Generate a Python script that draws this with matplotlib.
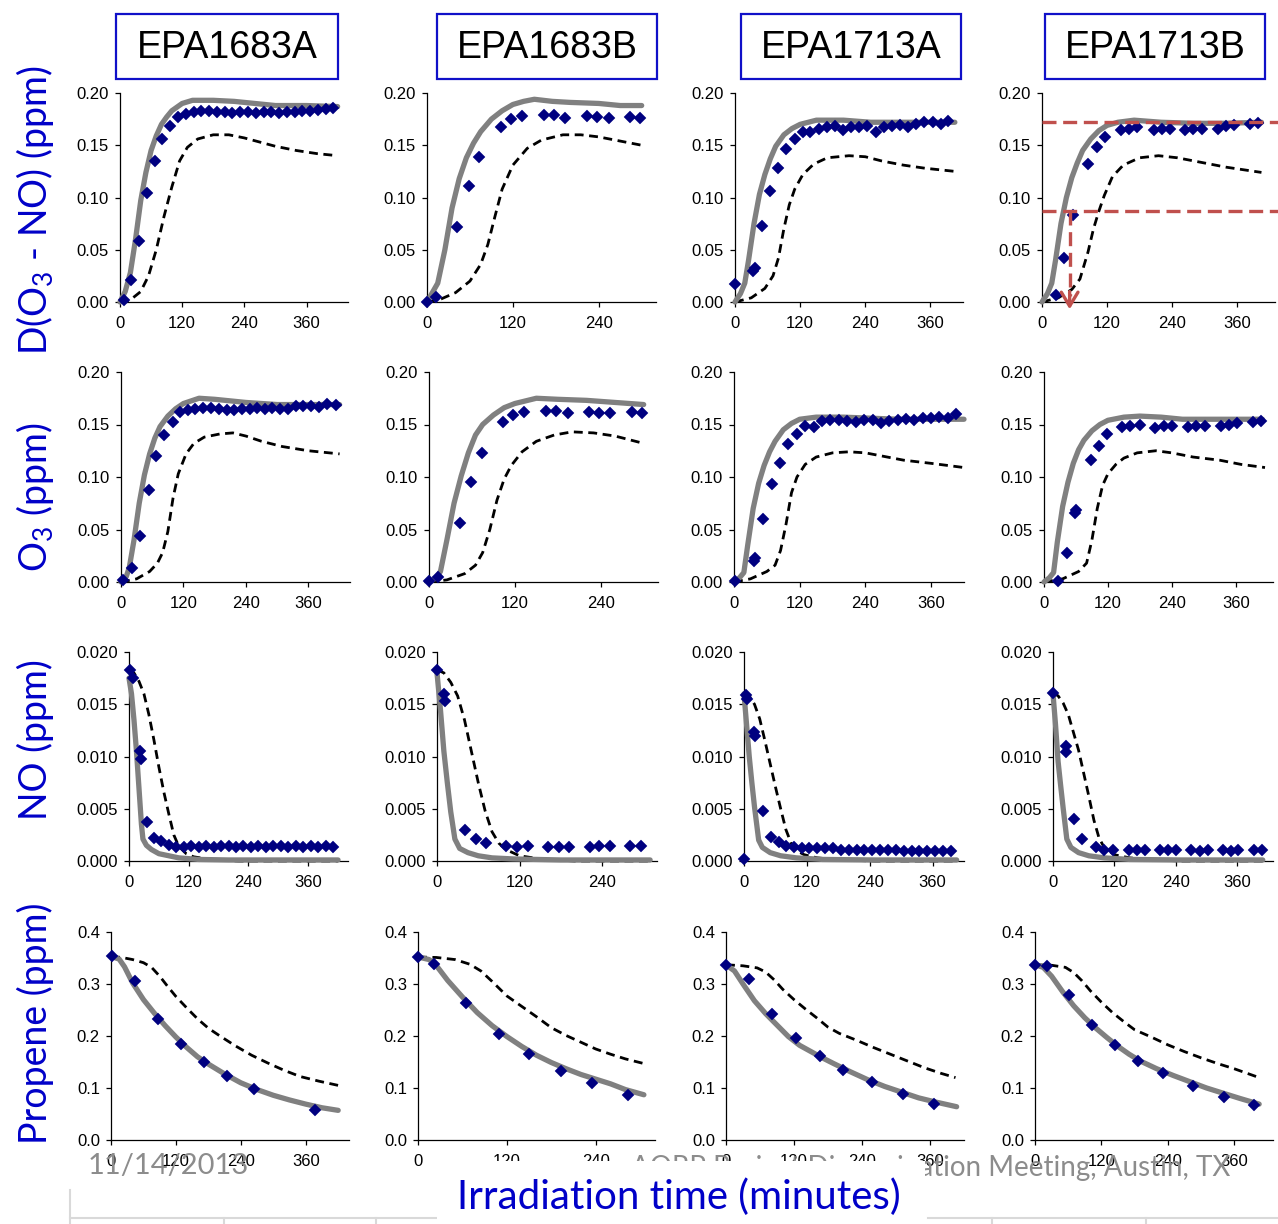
import matplotlib.pyplot as plt
from matplotlib.patches import Rectangle
from matplotlib.lines import Line2D

plt.rcParams['font.family'] = ['Liberation Sans', 'DejaVu Sans']
plt.rcParams['mathtext.default'] = 'regular'

W, H = 1278, 1224

runs = ["EPA1683A", "EPA1683B", "EPA1713A", "EPA1713B"]
row_labels = ["D(O$_3$ - NO) (ppm)", "O$_3$ (ppm)", "NO (ppm)", "Propene (ppm)"]
x_title = "Irradiation time (minutes)"
date_text = "11/14/2013"
footer_text = "AQRP Project Dissemination Meeting, Austin, TX"

# ---------------- D(O3 - NO) ----------------
r1c1_obs_t = [7, 22, 37, 52, 67, 82, 97, 112, 127, 142, 157, 172, 187, 202, 217, 232, 247, 262, 277, 292,
              307, 322, 337, 352, 367, 382, 397, 412]
r1c1_obs = [0.002, 0.021, 0.058, 0.104, 0.135, 0.156, 0.168, 0.177, 0.180, 0.182, 0.183, 0.183, 0.182, 0.182,
            0.181, 0.182, 0.182, 0.181, 0.182, 0.182, 0.181, 0.182, 0.182, 0.183, 0.183, 0.184, 0.185, 0.186]
r1c1_mod_t = [0, 10, 20, 30, 40, 50, 60, 70, 80, 90, 100, 120, 140, 180, 220, 260, 300, 360, 420]
r1c1_mod = [0, 0.010, 0.028, 0.060, 0.097, 0.124, 0.145, 0.159, 0.170, 0.177, 0.183, 0.190, 0.193, 0.193,
            0.192, 0.190, 0.188, 0.188, 0.187]
r1c1_old_t = [0, 20, 40, 55, 70, 85, 100, 115, 130, 150, 180, 210, 240, 270, 300, 340, 380, 420]
r1c1_old = [0, 0.002, 0.010, 0.025, 0.050, 0.082, 0.110, 0.135, 0.148, 0.156, 0.160, 0.160, 0.157, 0.153,
            0.149, 0.145, 0.142, 0.140]

r1c2_obs_t = [0, 13, 42, 58, 72, 103, 118, 133, 163, 177, 193, 224, 238, 254, 283, 298]
r1c2_obs = [0.000, 0.005, 0.072, 0.111, 0.139, 0.167, 0.175, 0.178, 0.179, 0.179, 0.176, 0.178, 0.177, 0.176,
            0.177, 0.176]
r1c2_mod_t = [0, 15, 25, 35, 45, 55, 65, 75, 90, 105, 120, 135, 150, 175, 200, 240, 270, 300]
r1c2_mod = [0, 0.018, 0.050, 0.090, 0.118, 0.138, 0.152, 0.163, 0.175, 0.183, 0.189, 0.192, 0.194, 0.192,
            0.191, 0.190, 0.188, 0.188]
r1c2_old_t = [0, 20, 40, 60, 75, 85, 95, 105, 120, 140, 160, 190, 215, 240, 270, 300]
r1c2_old = [0, 0.003, 0.009, 0.020, 0.036, 0.055, 0.082, 0.108, 0.131, 0.147, 0.155, 0.160, 0.160, 0.158,
            0.154, 0.150]

r1c3_obs_t = [0, 34, 36, 49, 65, 80, 94, 110, 125, 139, 154, 169, 184, 199, 214, 229, 244, 259, 274, 289,
              304, 319, 334, 349, 364, 379, 392]
r1c3_obs = [0.017, 0.030, 0.033, 0.073, 0.106, 0.128, 0.146, 0.156, 0.163, 0.163, 0.166, 0.167, 0.168, 0.165,
            0.167, 0.167, 0.168, 0.163, 0.167, 0.168, 0.169, 0.167, 0.170, 0.172, 0.172, 0.170, 0.173]
r1c3_mod_t = [0, 10, 18, 25, 35, 45, 55, 65, 75, 90, 105, 120, 150, 200, 250, 300, 350, 405]
r1c3_mod = [0, 0.008, 0.018, 0.040, 0.075, 0.103, 0.122, 0.137, 0.149, 0.160, 0.166, 0.170, 0.174, 0.174,
            0.172, 0.172, 0.172, 0.172]
r1c3_old_t = [0, 30, 55, 70, 80, 90, 100, 110, 125, 145, 170, 210, 240, 270, 310, 350, 405]
r1c3_old = [0, 0.004, 0.013, 0.025, 0.042, 0.070, 0.093, 0.108, 0.122, 0.132, 0.138, 0.140, 0.139, 0.135,
            0.131, 0.128, 0.125]

r1c4_obs_t = [26, 41, 57, 85, 101, 117, 145, 161, 176, 206, 221, 237, 264, 279, 295, 324, 340, 355, 383, 398]
r1c4_obs = [0.007, 0.042, 0.083, 0.132, 0.148, 0.158, 0.165, 0.166, 0.167, 0.165, 0.166, 0.166, 0.165, 0.166,
            0.166, 0.166, 0.168, 0.169, 0.170, 0.171]
r1c4_mod_t = [0, 10, 18, 25, 35, 45, 55, 65, 75, 90, 105, 120, 140, 170, 220, 280, 340, 405]
r1c4_mod = [0, 0.008, 0.018, 0.040, 0.075, 0.100, 0.119, 0.133, 0.145, 0.156, 0.164, 0.169, 0.172, 0.174,
            0.172, 0.171, 0.171, 0.172]
r1c4_old_t = [0, 30, 55, 70, 85, 95, 105, 115, 130, 150, 180, 215, 250, 290, 340, 405]
r1c4_old = [0, 0.004, 0.012, 0.022, 0.048, 0.070, 0.087, 0.102, 0.120, 0.131, 0.138, 0.140, 0.138, 0.134,
            0.129, 0.124]

# red guide lines on EPA1713B: max value, half of it, time to half
guide_max = 0.1725
guide_half = 0.0867
guide_t_half = 51

# ---------------- O3 ----------------
r2c1_obs_t = [3, 21, 37, 53, 68, 83, 99, 114, 129, 143, 158, 173, 188, 203, 217, 232, 247, 262, 277, 291,
              306, 321, 336, 350, 365, 380, 395, 414]
r2c1_obs = [0.002, 0.013, 0.044, 0.088, 0.120, 0.140, 0.152, 0.162, 0.164, 0.165, 0.166, 0.166, 0.165, 0.164,
            0.164, 0.165, 0.165, 0.166, 0.165, 0.166, 0.165, 0.165, 0.168, 0.168, 0.168, 0.167, 0.170, 0.169]
r2c1_mod_t = [0, 10, 16, 25, 35, 45, 55, 65, 75, 90, 105, 120, 150, 180, 240, 300, 360, 420]
r2c1_mod = [0, 0.005, 0.014, 0.040, 0.075, 0.102, 0.122, 0.137, 0.148, 0.158, 0.165, 0.170, 0.175, 0.174,
            0.171, 0.169, 0.169, 0.169]
r2c1_old_t = [0, 30, 55, 70, 80, 90, 100, 110, 125, 140, 160, 190, 215, 240, 270, 310, 360, 420]
r2c1_old = [0, 0.003, 0.010, 0.018, 0.028, 0.048, 0.080, 0.103, 0.122, 0.132, 0.138, 0.141, 0.142, 0.139,
            0.134, 0.129, 0.125, 0.122]

r2c2_obs_t = [0, 13, 43, 58, 74, 103, 118, 133, 163, 178, 194, 223, 238, 253, 283, 298]
r2c2_obs = [0.001, 0.005, 0.056, 0.095, 0.123, 0.152, 0.159, 0.162, 0.163, 0.163, 0.161, 0.162, 0.161, 0.161,
            0.162, 0.161]
r2c2_mod_t = [0, 10, 16, 25, 35, 45, 55, 65, 75, 90, 105, 120, 150, 180, 220, 260, 300]
r2c2_mod = [0, 0.004, 0.010, 0.040, 0.075, 0.101, 0.123, 0.140, 0.150, 0.159, 0.166, 0.170, 0.175, 0.174,
            0.173, 0.171, 0.169]
r2c2_old_t = [0, 25, 50, 65, 75, 85, 95, 105, 115, 130, 150, 175, 200, 230, 260, 300]
r2c2_old = [0, 0.002, 0.008, 0.016, 0.028, 0.050, 0.078, 0.098, 0.111, 0.124, 0.134, 0.140, 0.143, 0.142,
            0.139, 0.132]

r2c3_obs_t = [2, 36, 38, 53, 69, 84, 99, 115, 130, 146, 161, 176, 191, 207, 222, 237, 253, 268, 283, 299,
              314, 329, 345, 360, 375, 391, 406]
r2c3_obs = [0.001, 0.020, 0.023, 0.060, 0.093, 0.113, 0.131, 0.141, 0.149, 0.148, 0.153, 0.154, 0.154, 0.153,
            0.152, 0.154, 0.154, 0.151, 0.153, 0.154, 0.155, 0.154, 0.156, 0.156, 0.157, 0.156, 0.160]
r2c3_mod_t = [0, 10, 18, 25, 35, 45, 55, 65, 75, 90, 105, 120, 150, 200, 250, 300, 360, 420]
r2c3_mod = [0, 0.004, 0.009, 0.035, 0.070, 0.094, 0.111, 0.124, 0.134, 0.145, 0.151, 0.155, 0.157, 0.157,
            0.156, 0.155, 0.155, 0.155]
r2c3_old_t = [0, 30, 60, 75, 85, 95, 105, 115, 130, 150, 180, 210, 240, 270, 310, 360, 420]
r2c3_old = [0, 0.003, 0.010, 0.016, 0.030, 0.055, 0.085, 0.100, 0.112, 0.119, 0.123, 0.124, 0.123, 0.120,
            0.116, 0.113, 0.109]

r2c4_obs_t = [27, 43, 58, 60, 88, 103, 118, 147, 162, 180, 209, 226, 241, 270, 285, 303, 332, 347, 362, 393, 408]
r2c4_obs = [0.001, 0.028, 0.066, 0.069, 0.116, 0.130, 0.141, 0.148, 0.149, 0.150, 0.147, 0.149, 0.149, 0.148,
            0.149, 0.149, 0.149, 0.150, 0.151, 0.152, 0.153]
r2c4_mod_t = [0, 10, 18, 25, 35, 45, 55, 65, 75, 90, 105, 120, 150, 180, 220, 260, 320, 410]
r2c4_mod = [0, 0.004, 0.009, 0.038, 0.072, 0.095, 0.113, 0.126, 0.135, 0.144, 0.150, 0.154, 0.157, 0.158,
            0.157, 0.155, 0.155, 0.155]
r2c4_old_t = [0, 35, 65, 80, 90, 100, 110, 120, 135, 150, 175, 210, 240, 280, 330, 370, 415]
r2c4_old = [0, 0.003, 0.010, 0.018, 0.040, 0.070, 0.092, 0.103, 0.112, 0.118, 0.123, 0.125, 0.123, 0.119,
            0.116, 0.112, 0.109]

# ---------------- NO ----------------
r3c1_obs_t = [2, 9, 23, 25, 37, 50, 65, 80, 95, 110, 125, 140, 155, 170, 185, 200, 215, 230, 245, 260, 275,
              290, 305, 320, 335, 350, 365, 380, 395, 410]
r3c1_obs = [0.0183, 0.0175, 0.0105, 0.0098, 0.0037, 0.0022, 0.0019, 0.0015, 0.0013, 0.0013, 0.0014, 0.0013,
            0.0014, 0.0013, 0.0014, 0.0014, 0.0013, 0.0014, 0.0013, 0.0014, 0.0013, 0.0014, 0.0014, 0.0013,
            0.0014, 0.0013, 0.0014, 0.0013, 0.0014, 0.0013]
r3c1_mod_t = [0, 5, 10, 15, 20, 25, 28, 35, 45, 60, 80, 100, 140, 200, 300, 420]
r3c1_mod = [0.0175, 0.0160, 0.0135, 0.0105, 0.0070, 0.0035, 0.0021, 0.0015, 0.0011, 0.0007, 0.0005, 0.0003,
            0.00015, 0.0001, 0.0001, 0.0001]
r3c1_old_t = [0, 10, 20, 30, 40, 50, 60, 70, 80, 90, 100, 115, 130, 170, 220, 420]
r3c1_old = [0.0183, 0.0180, 0.0172, 0.0160, 0.0140, 0.0116, 0.0090, 0.0066, 0.0045, 0.0025, 0.0014, 0.0007,
            0.0004, 0.0001, 0, 0]

r3c2_obs_t = [0, 10, 11, 41, 56, 71, 101, 117, 132, 162, 177, 192, 222, 236, 251, 281, 296]
r3c2_obs = [0.0183, 0.0160, 0.0153, 0.0030, 0.0021, 0.0017, 0.0014, 0.0013, 0.0014, 0.0013, 0.0013, 0.0013,
            0.0013, 0.0014, 0.0014, 0.0014, 0.0014]
r3c2_mod_t = [0, 5, 10, 15, 20, 26, 33, 45, 60, 80, 110, 180, 310]
r3c2_mod = [0.0180, 0.0145, 0.0105, 0.0075, 0.0047, 0.0021, 0.0012, 0.0008, 0.0005, 0.0003, 0.0002, 0.0001,
            0.0001]
r3c2_old_t = [0, 10, 20, 30, 40, 50, 60, 70, 80, 90, 100, 120, 150, 200, 310]
r3c2_old = [0.0183, 0.0180, 0.0171, 0.0158, 0.0135, 0.0105, 0.0075, 0.0048, 0.0028, 0.0017, 0.0011, 0.0005,
            0.0002, 0, 0]

r3c3_obs_t = [0, 4, 6, 19, 21, 36, 51, 66, 80, 95, 110, 125, 140, 155, 170, 185, 200, 215, 230, 245, 260, 275,
              290, 305, 320, 335, 350, 365, 380, 395]
r3c3_obs = [0.0002, 0.0159, 0.0155, 0.0123, 0.0120, 0.0048, 0.0023, 0.0018, 0.0014, 0.0013, 0.0012, 0.0012,
            0.0012, 0.0012, 0.0012, 0.0011, 0.0011, 0.0011, 0.0011, 0.0011, 0.0011, 0.0011, 0.0011, 0.0010,
            0.0010, 0.0010, 0.0010, 0.0010, 0.0010, 0.0010]
r3c3_mod_t = [0, 5, 10, 15, 20, 28, 35, 50, 70, 100, 150, 250, 406]
r3c3_mod = [0.0160, 0.0130, 0.0100, 0.0075, 0.0052, 0.0020, 0.0013, 0.0008, 0.0005, 0.0003, 0.00015, 0.0001,
            0.0001]
r3c3_old_t = [0, 10, 20, 30, 40, 50, 60, 70, 80, 90, 100, 115, 140, 180, 250, 406]
r3c3_old = [0.0161, 0.0158, 0.0150, 0.0136, 0.0115, 0.0093, 0.0071, 0.0050, 0.0030, 0.0017, 0.0010, 0.0006,
            0.0003, 0.0001, 0, 0]

r3c4_obs_t = [0, 25, 26, 41, 56, 85, 100, 118, 149, 164, 180, 210, 225, 241, 270, 287, 302, 332, 347, 362,
              393, 409]
r3c4_obs = [0.0161, 0.0110, 0.0104, 0.0040, 0.0021, 0.0013, 0.0011, 0.0011, 0.0011, 0.0011, 0.0011, 0.0011,
            0.0011, 0.0011, 0.0011, 0.0010, 0.0011, 0.0011, 0.0010, 0.0011, 0.0011, 0.0011]
r3c4_mod_t = [0, 5, 10, 15, 20, 27, 35, 50, 70, 100, 150, 250, 410]
r3c4_mod = [0.0160, 0.0130, 0.0095, 0.0072, 0.0050, 0.0021, 0.0013, 0.0008, 0.0005, 0.0003, 0.00015, 0.0001,
            0.0001]
r3c4_old_t = [0, 10, 20, 30, 40, 50, 60, 70, 80, 90, 100, 120, 150, 200, 250, 410]
r3c4_old = [0.0161, 0.0158, 0.0151, 0.0140, 0.0123, 0.0106, 0.0084, 0.0062, 0.0039, 0.0022, 0.0013, 0.0006,
            0.0003, 0.0001, 0, 0]

# ---------------- Propene ----------------
r4c1_obs_t = [2, 45, 87, 130, 172, 215, 264, 377]
r4c1_obs = [0.353, 0.305, 0.233, 0.184, 0.150, 0.123, 0.099, 0.058]
r4c1_mod_t = [0, 15, 25, 40, 60, 80, 100, 120, 140, 160, 180, 210, 240, 270, 300, 330, 360, 390, 420]
r4c1_mod = [0.353, 0.348, 0.333, 0.302, 0.270, 0.244, 0.220, 0.198, 0.178, 0.160, 0.146, 0.127, 0.110, 0.097,
            0.086, 0.077, 0.069, 0.062, 0.057]
r4c1_old_t = [0, 20, 40, 60, 75, 90, 105, 120, 140, 160, 180, 200, 230, 260, 290, 320, 350, 385, 420]
r4c1_old = [0.353, 0.351, 0.347, 0.341, 0.332, 0.315, 0.295, 0.276, 0.254, 0.233, 0.215, 0.201, 0.181, 0.163,
            0.148, 0.134, 0.122, 0.113, 0.105]

r4c2_obs_t = [0, 22, 65, 109, 150, 193, 235, 284]
r4c2_obs = [0.352, 0.339, 0.264, 0.203, 0.165, 0.133, 0.109, 0.086]
r4c2_mod_t = [0, 15, 25, 40, 60, 80, 100, 120, 140, 160, 180, 200, 220, 240, 260, 280, 305]
r4c2_mod = [0.352, 0.347, 0.335, 0.307, 0.275, 0.245, 0.220, 0.199, 0.180, 0.163, 0.149, 0.137, 0.126, 0.117,
            0.108, 0.097, 0.087]
r4c2_old_t = [0, 25, 50, 70, 85, 100, 120, 140, 160, 180, 200, 220, 240, 260, 280, 305]
r4c2_old = [0.352, 0.351, 0.347, 0.338, 0.325, 0.305, 0.277, 0.257, 0.237, 0.216, 0.201, 0.188, 0.175, 0.165,
            0.156, 0.147]

r4c3_obs_t = [0, 41, 81, 123, 165, 207, 258, 313, 367]
r4c3_obs = [0.337, 0.309, 0.242, 0.197, 0.162, 0.135, 0.111, 0.088, 0.069]
r4c3_mod_t = [0, 15, 30, 50, 70, 90, 110, 130, 150, 170, 190, 220, 250, 280, 310, 340, 370, 407]
r4c3_mod = [0.337, 0.325, 0.300, 0.268, 0.243, 0.221, 0.199, 0.182, 0.170, 0.158, 0.147, 0.131, 0.116, 0.103,
            0.092, 0.081, 0.073, 0.064]
r4c3_old_t = [0, 30, 55, 70, 85, 100, 120, 140, 160, 180, 200, 230, 260, 290, 320, 350, 380, 405]
r4c3_old = [0.337, 0.335, 0.331, 0.323, 0.308, 0.290, 0.270, 0.252, 0.235, 0.217, 0.205, 0.192, 0.178, 0.165,
            0.152, 0.139, 0.128, 0.120]

r4c4_obs_t = [0, 21, 61, 103, 144, 186, 232, 286, 341, 395]
r4c4_obs = [0.337, 0.335, 0.279, 0.222, 0.183, 0.151, 0.128, 0.104, 0.082, 0.067]
r4c4_mod_t = [0, 15, 30, 50, 70, 90, 110, 130, 150, 170, 190, 220, 250, 280, 310, 340, 370, 405]
r4c4_mod = [0.337, 0.332, 0.315, 0.285, 0.258, 0.235, 0.215, 0.197, 0.180, 0.165, 0.152, 0.137, 0.124, 0.112,
            0.100, 0.090, 0.080, 0.069]
r4c4_old_t = [0, 30, 55, 70, 85, 100, 120, 140, 160, 180, 210, 240, 270, 300, 330, 360, 405]
r4c4_old = [0.337, 0.336, 0.332, 0.322, 0.306, 0.287, 0.265, 0.245, 0.228, 0.212, 0.198, 0.183, 0.170, 0.158,
            0.147, 0.137, 0.120]

panels = {
    (0, 0): (r1c1_obs_t, r1c1_obs, r1c1_mod_t, r1c1_mod, r1c1_old_t, r1c1_old),
    (0, 1): (r1c2_obs_t, r1c2_obs, r1c2_mod_t, r1c2_mod, r1c2_old_t, r1c2_old),
    (0, 2): (r1c3_obs_t, r1c3_obs, r1c3_mod_t, r1c3_mod, r1c3_old_t, r1c3_old),
    (0, 3): (r1c4_obs_t, r1c4_obs, r1c4_mod_t, r1c4_mod, r1c4_old_t, r1c4_old),
    (1, 0): (r2c1_obs_t, r2c1_obs, r2c1_mod_t, r2c1_mod, r2c1_old_t, r2c1_old),
    (1, 1): (r2c2_obs_t, r2c2_obs, r2c2_mod_t, r2c2_mod, r2c2_old_t, r2c2_old),
    (1, 2): (r2c3_obs_t, r2c3_obs, r2c3_mod_t, r2c3_mod, r2c3_old_t, r2c3_old),
    (1, 3): (r2c4_obs_t, r2c4_obs, r2c4_mod_t, r2c4_mod, r2c4_old_t, r2c4_old),
    (2, 0): (r3c1_obs_t, r3c1_obs, r3c1_mod_t, r3c1_mod, r3c1_old_t, r3c1_old),
    (2, 1): (r3c2_obs_t, r3c2_obs, r3c2_mod_t, r3c2_mod, r3c2_old_t, r3c2_old),
    (2, 2): (r3c3_obs_t, r3c3_obs, r3c3_mod_t, r3c3_mod, r3c3_old_t, r3c3_old),
    (2, 3): (r3c4_obs_t, r3c4_obs, r3c4_mod_t, r3c4_mod, r3c4_old_t, r3c4_old),
    (3, 0): (r4c1_obs_t, r4c1_obs, r4c1_mod_t, r4c1_mod, r4c1_old_t, r4c1_old),
    (3, 1): (r4c2_obs_t, r4c2_obs, r4c2_mod_t, r4c2_mod, r4c2_old_t, r4c2_old),
    (3, 2): (r4c3_obs_t, r4c3_obs, r4c3_mod_t, r4c3_mod, r4c3_old_t, r4c3_old),
    (3, 3): (r4c4_obs_t, r4c4_obs, r4c4_mod_t, r4c4_mod, r4c4_old_t, r4c4_old),
}

y_ticks = [[0, 0.05, 0.10, 0.15, 0.20], [0, 0.05, 0.10, 0.15, 0.20],
           [0, 0.005, 0.010, 0.015, 0.020], [0, 0.1, 0.2, 0.3, 0.4]]
y_fmt = ["{:.2f}", "{:.2f}", "{:.3f}", "{:.1f}"]
x_max = [440, 320, 420, 430]
x_ticks = [[0, 120, 240, 360], [0, 120, 240], [0, 120, 240, 360], [0, 120, 240, 360]]

# plot-area placement in pixels (Excel-style, shifts with tick label width)
row_top = [93, 372, 652, 932]
row_bot = [302, 582, 861, 1140]
ax_left = [[120, 427, 735, 1042], [121, 429, 734, 1044], [129, 437, 744, 1053], [111, 418, 726, 1035]]
ax_right = [[348, 656, 963, 1275], [350, 658, 964, 1273], [348, 657, 964, 1273], [349, 655, 964, 1273]]

BLUE = '#0000C8'
NAVY = '#000080'
GRAY = '#808080'
RED = '#C0504D'
SANS = ['Lato', 'DejaVu Sans']

fig = plt.figure(figsize=(W / 100, H / 100), dpi=100)


def fx(px):
    return px / W


def fy(py):
    return 1 - py / H


for (r, c), (ot, oy, mt, my, dt, dy) in panels.items():
    l, rt = ax_left[r][c], ax_right[r][c]
    ax = fig.add_axes([fx(l), fy(row_bot[r]), (rt - l) / W, (row_bot[r] - row_top[r]) / H])
    ax.plot(dt, dy, color='black', lw=2.0, dashes=(3.2, 2.0), zorder=2, clip_on=False)
    ax.plot(mt, my, color=GRAY, lw=3.8, solid_capstyle='round', zorder=3, clip_on=False)
    ax.plot(ot, oy, ls='none', marker='D', ms=6.3, color=NAVY, mec=NAVY, mew=0.3, zorder=4, clip_on=False)
    ax.set_xlim(0, x_max[c])
    ax.set_ylim(0, y_ticks[r][-1])
    ax.set_xticks(x_ticks[c])
    ax.set_xticklabels([str(v) for v in x_ticks[c]])
    ax.set_yticks(y_ticks[r])
    ax.set_yticklabels([y_fmt[r].format(v) for v in y_ticks[r]])
    for s in ['top', 'right']:
        ax.spines[s].set_visible(False)
    for s in ['left', 'bottom']:
        ax.spines[s].set_linewidth(0.9)
    ax.tick_params(direction='out', length=3.5, width=0.9, labelsize=12, colors='black', pad=4.5)
    ax.tick_params(axis='x', pad=6.5)

    if (r, c) == (0, 3):
        for yv in (guide_max, guide_half):
            ax.plot([0, 440], [yv, yv], color=RED, lw=2.4, dashes=(4.2, 2.0), clip_on=False, zorder=5)
        ax.plot([guide_t_half, guide_t_half], [guide_half, 0.006], color=RED, lw=2.4, dashes=(4.2, 2.0),
                clip_on=False, zorder=5)
        ax.annotate('', xy=(guide_t_half, -0.007), xytext=(guide_t_half, 0.010),
                    arrowprops=dict(arrowstyle='->,head_length=1.0,head_width=0.6', color=RED, lw=2.4,
                                    shrinkA=0, shrinkB=0),
                    annotation_clip=False, zorder=5)

# column titles in boxes
box_x = [(116, 338), (437, 657), (741, 961), (1045, 1265)]
for (x0, x1), name in zip(box_x, runs):
    fig.add_artist(Rectangle((fx(x0), fy(79)), (x1 - x0) / W, 65 / H, transform=fig.transFigure,
                             facecolor='white', edgecolor='#1010C8', lw=1.6))
    fig.text(fx((x0 + x1) / 2), fy(48), name, ha='center', va='center', fontsize=27, color='black')

# row labels
row_label_y = [210, 497, 740, 1023]
for lab, yc in zip(row_labels, row_label_y):
    fig.text(fx(35), fy(yc), lab, rotation=90, ha='center', va='center', fontsize=27, color=BLUE,
             family=SANS)

# footer (sits behind the axis title box)
fig.text(fx(88), fy(1166), date_text, ha='left', va='center', fontsize=21, color='#8C8C8C', family=SANS,
         zorder=1)
fig.text(fx(1230), fy(1168), footer_text, ha='right', va='center', fontsize=20, color='#8C8C8C',
         family=SANS, zorder=1)

for seg in [((70, 437), (1218, 1218)), ((928, 1278), (1218, 1218)), ((70, 70), (1190, 1224)),
            ((224, 224), (1218, 1224)), ((376, 376), (1218, 1224)), ((992, 992), (1218, 1224)),
            ((1146, 1146), (1218, 1224))]:
    fig.add_artist(Line2D([fx(v) for v in seg[0]], [fy(v) for v in seg[1]], transform=fig.transFigure,
                          color='#D9D9D9', lw=1.5, zorder=1))

fig.add_artist(Rectangle((fx(437), fy(1224)), (925 - 437) / W, (1224 - 1161) / H, transform=fig.transFigure,
                         facecolor='white', edgecolor='none', zorder=5))
fig.text(fx(679), fy(1197), x_title, ha='center', va='center', fontsize=29, color=BLUE, family=SANS, zorder=6)

fig.savefig('out.png', dpi=100)
